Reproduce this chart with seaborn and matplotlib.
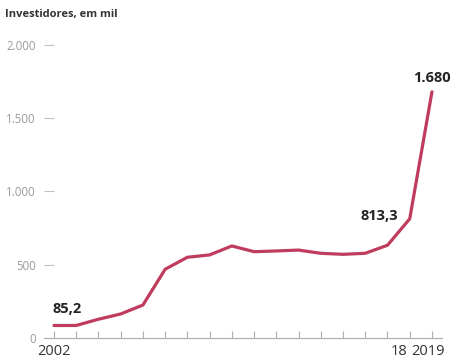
import numpy as np
import pandas as pd
import matplotlib.pyplot as plt
import matplotlib.transforms as mtransforms
import seaborn as sns

plt.switch_backend("Agg")

# Investidores pessoa física, em mil
anos = list(range(2002, 2020))
investidores = [85.2, 85.5, 128, 164, 225, 469, 551, 567, 628, 589,
                594, 600, 578, 571, 578, 633, 813.3, 1680]
rotulos = {2002: "85,2", 2018: "813,3", 2019: "1.680"}
yticks = [0, 500, 1000, 1500, 2000]
ytick_labels = ["0", "500", "1.000", "1.500", "2.000"]
xticks = [2002, 2003, 2004, 2005, 2006, 2007, 2008, 2009, 2010, 2011,
          2012, 2013, 2014, 2015, 2016, 2017, 2018, 2019]
xtick_labels = ["2002"] + [""] * 15 + ["18", "2019"]

cor_linha = "#c03c5c"
cor_cinza = "#b0b0b0"


def main():
    sns.set_style("white")
    plt.rcParams["font.family"] = ["Open Sans", "DejaVu Sans"]

    df = pd.DataFrame({"ano": anos, "investidores": investidores})

    fig = plt.figure(figsize=(4.52, 3.58), dpi=100)
    ax = fig.add_axes([0.0973, 0.0559, 0.8805, 0.8595])

    sns.lineplot(data=df, x="ano", y="investidores", ax=ax,
                 color=cor_linha, linewidth=2.3, solid_joinstyle="round")

    ax.set_xlim(2001.55, 2019.45)
    ax.set_ylim(0, 2100)

    for s in ["top", "right", "left"]:
        ax.spines[s].set_visible(False)
    ax.spines["bottom"].set_color(cor_cinza)
    ax.spines["bottom"].set_linewidth(0.9)

    ax.set_yticks(yticks)
    ax.set_yticklabels(ytick_labels)
    ax.tick_params(axis="y", direction="in", length=7, width=0.8,
                   color="#c0c0c0", labelcolor="#9a9a9a", labelsize=8.3, pad=6,
                   left=True)
    # o zero não tem traço
    ax.yaxis.get_major_ticks()[0].tick1line.set_visible(False)

    ax.set_xticks(xticks)
    ax.set_xticklabels(xtick_labels)
    ax.tick_params(axis="x", direction="in", length=5, width=0.8,
                   color=cor_cinza, labelcolor="#333333", labelsize=10.5, pad=4,
                   bottom=True)

    # afasta "18" e "2019" como no original
    labels = ax.get_xticklabels()
    labels[-2].set_horizontalalignment("right")
    labels[-2].set_transform(labels[-2].get_transform() +
                             mtransforms.ScaledTranslation(-2 / 72, 0, fig.dpi_scale_trans))
    labels[-1].set_transform(labels[-1].get_transform() +
                             mtransforms.ScaledTranslation(-3 / 72, 0, fig.dpi_scale_trans))

    ax.set_xlabel("")
    ax.set_ylabel("")

    # rótulos de valores
    ax.annotate(rotulos[2002], (2002, 85.2), xytext=(-1, 7),
                textcoords="offset points", ha="left", va="bottom",
                fontsize=10.5, fontweight="bold", color="#222222")
    ax.annotate(rotulos[2018], (2018, 813.3), xytext=(-8, 2),
                textcoords="offset points", ha="right", va="center",
                fontsize=10.5, fontweight="bold", color="#222222")
    ax.annotate(rotulos[2019], (2019, 1680), xytext=(0, 5),
                textcoords="offset points", ha="center", va="bottom",
                fontsize=10.5, fontweight="bold", color="#222222")

    fig.text(0.011, 0.96, "Investidores, em mil", ha="left", va="center",
             fontsize=8, fontweight="bold", color="#333333")

    fig.savefig("out.png", dpi=100)
    plt.close(fig)


if __name__ == "__main__":
    main()
